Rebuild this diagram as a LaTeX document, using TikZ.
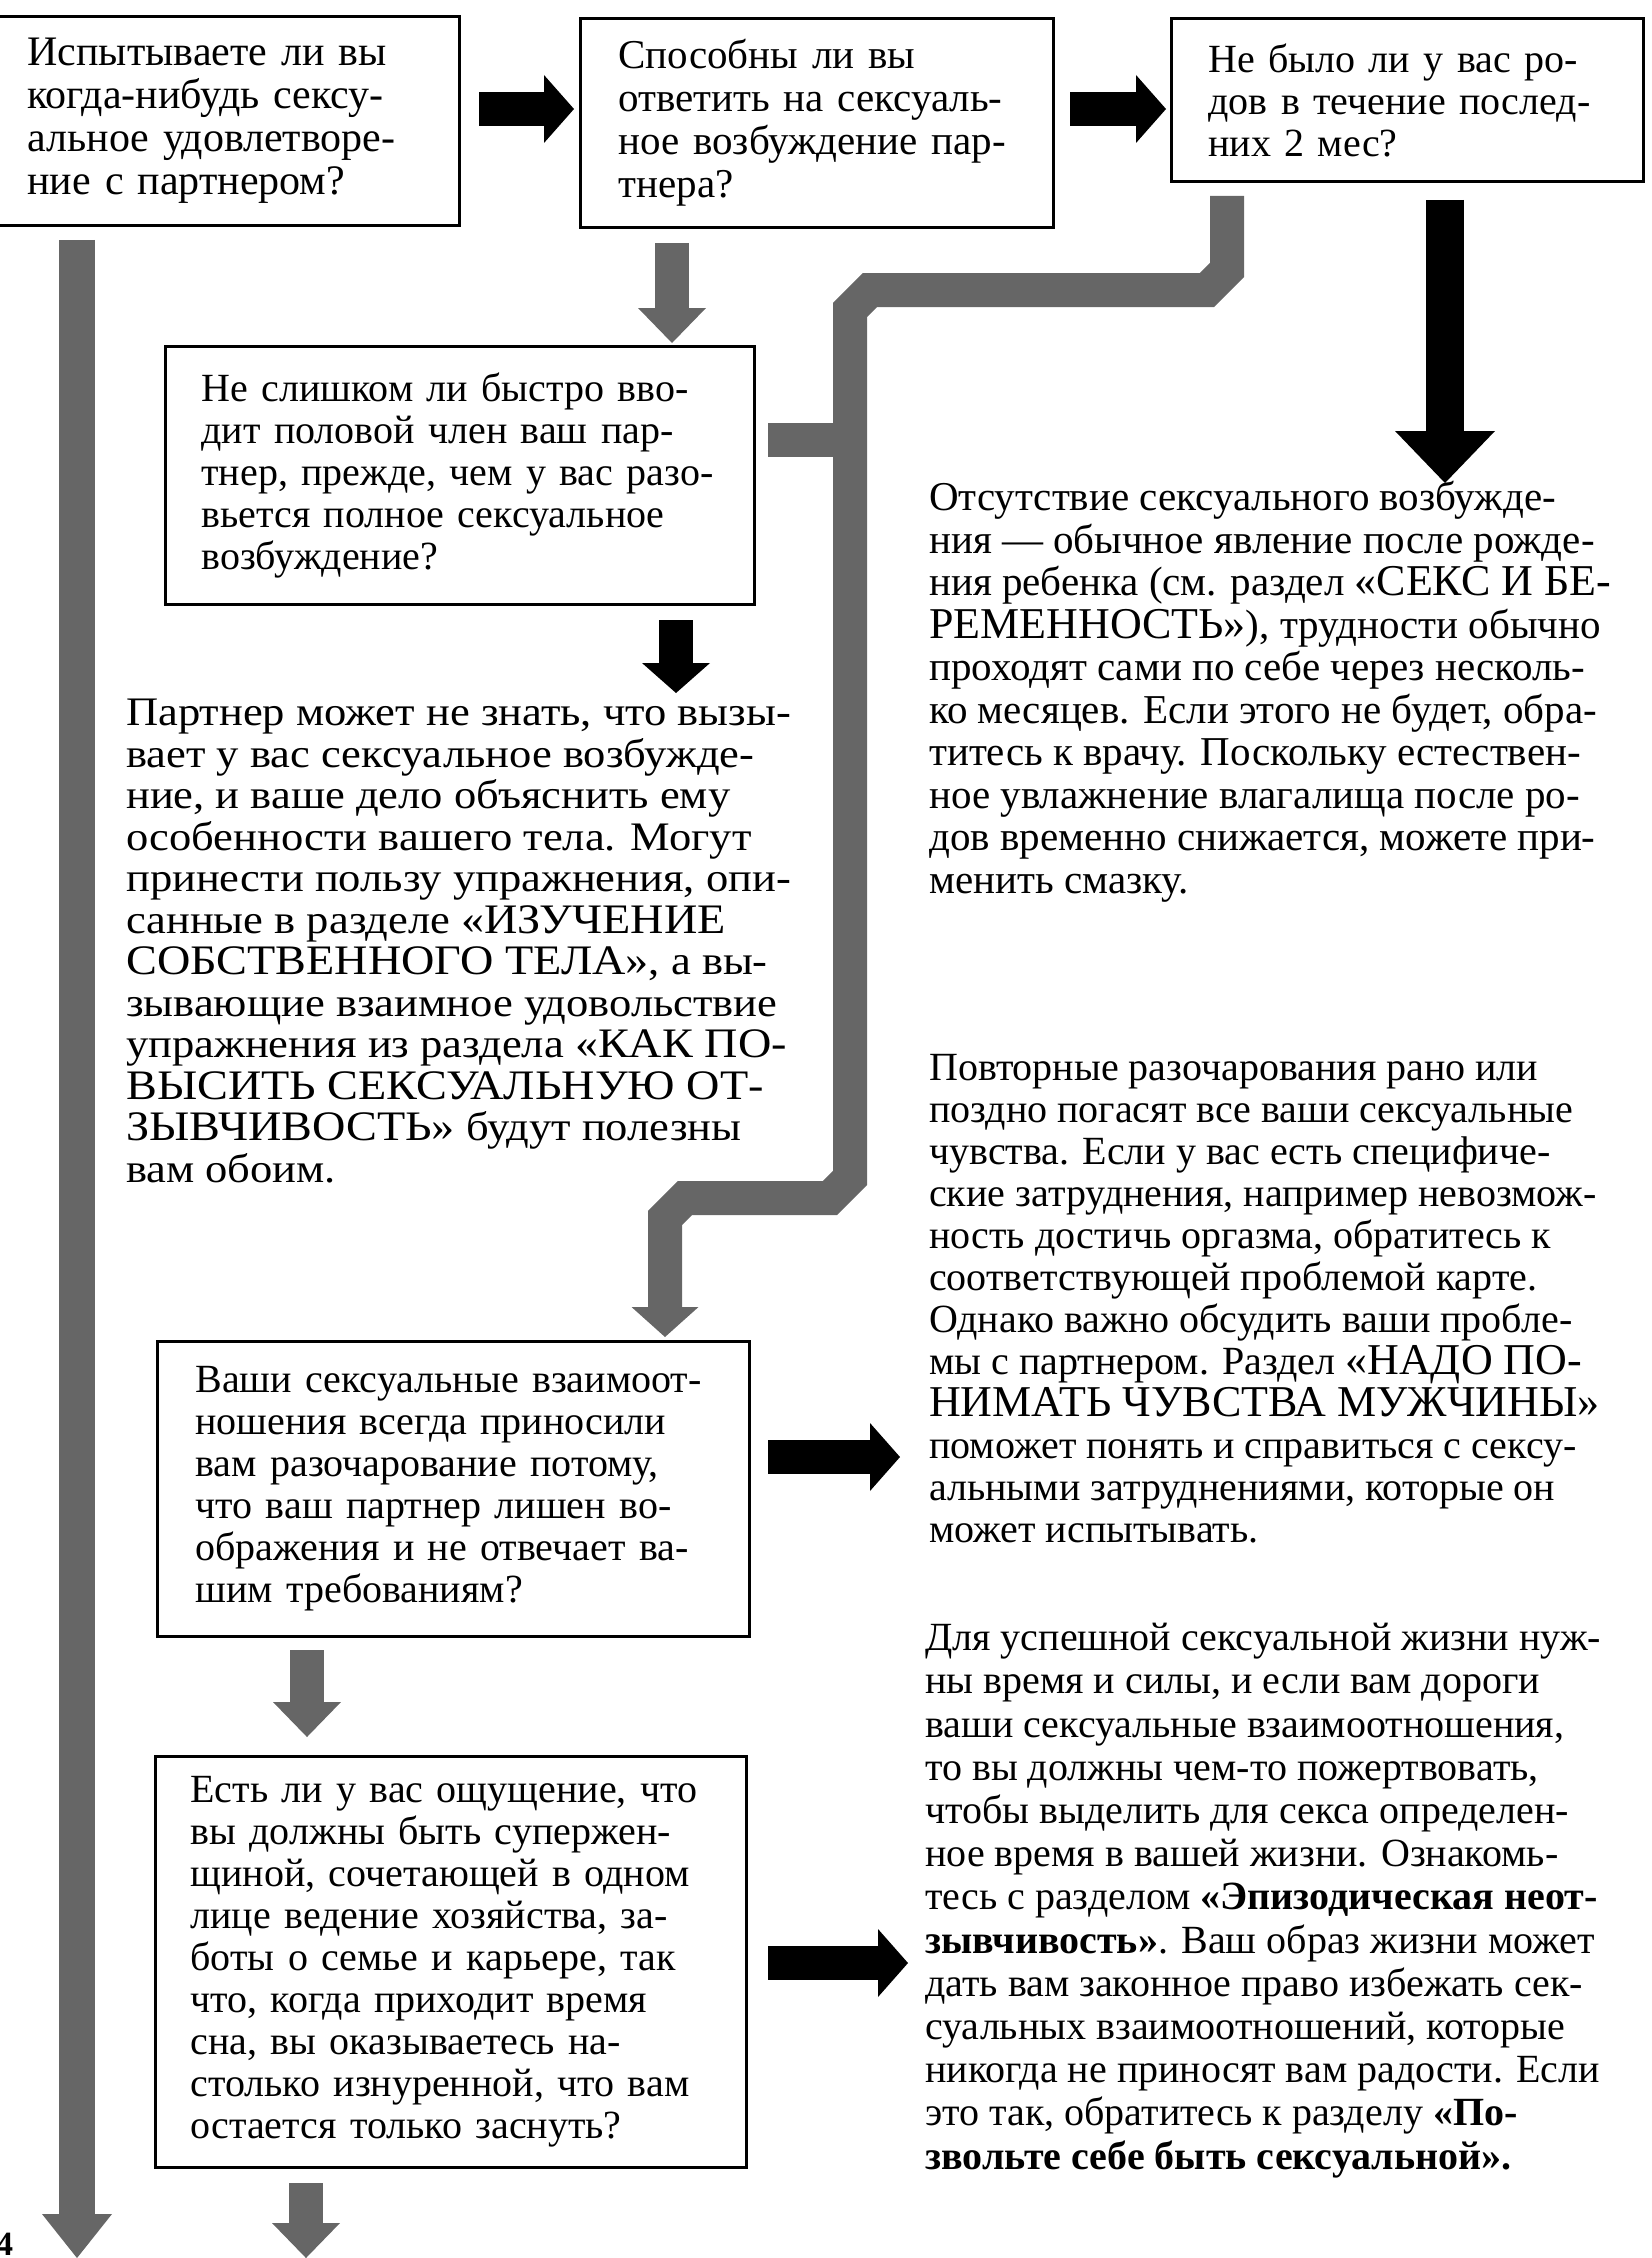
\documentclass[tikz,border=0pt]{standalone}
\usepackage{fontspec}
\setmainfont{Liberation Serif}
\newfontfamily\widefont[FakeStretch=1.1]{Liberation Serif}
\usetikzlibrary{arrows.meta,calc}

\newcommand{\capsw}[2][44]{{\fontsize{#1}{42}\selectfont #2}}
\newcommand{\notefont}[2]{\fontsize{#1}{#2}\selectfont\lineskiplimit=-30pt\relax}

\begin{document}
\begin{tikzpicture}[x=1pt, y=-1pt,
    qbox/.style={draw, line width=3pt, anchor=north west, align=left, inner ysep=0pt,
      font=\fontsize{40}{42}\selectfont},
    note/.style={anchor=north west, align=left, inner sep=0pt,
      font=\notefont{40}{42}},
    blackarrow/.style={line width=34pt, black, -{Triangle[length=30pt, width=68pt, line width=0pt]}},
    greyarrow/.style={line width=34pt, black!60, -{Triangle[length=35pt, width=68pt, line width=0pt]}},
    greypath/.style={line width=34pt, black!60}]
    \useasboundingbox (0,0) rectangle (1651,2258);

    % Вопросы в рамках
    \node[qbox, inner xsep=31pt, text width=401pt, minimum height=209pt,
      font=\fontsize{42}{43}\selectfont] (q1) at (-5,15)
      {Испытываете ли вы\\
       когда-нибудь сексу-\\
       альное удовлетворе-\\
       ние с партнером?};
    \node[qbox, inner xsep=38pt, text width=397pt, minimum height=209pt,
      font=\fontsize{41}{43}\selectfont] (q2) at (579,17)
      {Способны ли вы\\
       ответить на сексуаль-\\
       ное возбуждение пар-\\
       тнера?};
    \node[qbox, inner xsep=37pt, text width=398pt, minimum height=163pt] (q3) at (1170,17)
      {Не было ли у вас ро-\\
       дов в течение послед-\\
       них 2 мес?};
    \node[qbox, inner xsep=36pt, text width=517pt, minimum height=258pt] (q4) at (164,345)
      {Не слишком ли быстро вво-\\
       дит половой член ваш пар-\\
       тнер, прежде, чем у вас разо-\\
       вьется полное сексуальное\\
       возбуждение?};
    \node[qbox, inner xsep=38pt, text width=516pt, minimum height=295pt] (q5) at (156,1340)
      {Ваши сексуальные взаимоот-\\
       ношения всегда приносили\\
       вам разочарование потому,\\
       что ваш партнер лишен во-\\
       ображения и не отвечает ва-\\
       шим требованиям?};
    \node[qbox, inner xsep=35pt, text width=521pt, minimum height=411pt] (q6) at (154,1755)
      {Есть ли у вас ощущение, что\\
       вы должны быть супержен-\\
       щиной, сочетающей в одном\\
       лице ведение хозяйства, за-\\
       боты о семье и карьере, так\\
       что, когда приходит время\\
       сна, вы оказываетесь на-\\
       столько изнуренной, что вам\\
       остается только заснуть?};

    % Советы
    \node[note, font=\notefont{41}{42.5}] (t3) at (929,481)
      {Отсутствие сексуального возбужде-\\
       ния — обычное явление после рожде-\\
       ния ребенка (см. раздел \capsw{«СЕКС И БЕ-}\\
       \capsw{РЕМЕННОСТЬ»}), трудности обычно\\
       проходят сами по себе через несколь-\\
       ко месяцев. Если этого не будет, обра-\\
       титесь к врачу. Поскольку естествен-\\
       ное увлажнение влагалища после ро-\\
       дов временно снижается, можете при-\\
       менить смазку.};
    \node[note, font=\widefont\notefont{40.5}{41.5}] (t4) at (126,699)
      {Партнер может не знать, что вызы-\\
       вает у вас сексуальное возбужде-\\
       ние, и ваше дело объяснить ему\\
       особенности вашего тела. Могут\\
       принести пользу упражнения, опи-\\
       санные в разделе \capsw[42]{«ИЗУЧЕНИЕ}\\
       \capsw[42]{СОБСТВЕННОГО ТЕЛА»}, а вы-\\
       зывающие взаимное удовольствие\\
       упражнения из раздела \capsw[42]{«КАК ПО-}\\
       \capsw[42]{ВЫСИТЬ СЕКСУАЛЬНУЮ ОТ-}\\
       \capsw[42]{ЗЫВЧИВОСТЬ»} будут полезны\\
       вам обоим.};
    \node[note] (t5) at (929,1054)
      {Повторные разочарования рано или\\
       поздно погасят все ваши сексуальные\\
       чувства. Если у вас есть специфиче-\\
       ские затруднения, например невозмож-\\
       ность достичь оргазма, обратитесь к\\
       соответствующей проблемой карте.\\
       Однако важно обсудить ваши пробле-\\
       мы с партнером. Раздел \capsw{«НАДО ПО-}\\
       \capsw{НИМАТЬ ЧУВСТВА МУЖЧИНЫ»}\\
       поможет понять и справиться с сексу-\\
       альными затруднениями, которые он\\
       может испытывать.};
    \node[note, font=\notefont{40}{43.2}] (t6) at (925,1623)
      {Для успешной сексуальной жизни нуж-\\
       ны время и силы, и если вам дороги\\
       ваши сексуальные взаимоотношения,\\
       то вы должны чем-то пожертвовать,\\
       чтобы выделить для секса определен-\\
       ное время в вашей жизни. Ознакомь-\\
       тесь с разделом \textbf{«Эпизодическая неот-}\\
       \textbf{зывчивость»}. Ваш образ жизни может\\
       дать вам законное право избежать сек-\\
       суальных взаимоотношений, которые\\
       никогда не приносят вам радости. Если\\
       это так, обратитесь к разделу \textbf{«По-}\\
       \textbf{звольте себе быть сексуальной».}};

    % номер страницы
    \node[anchor=base west, inner sep=0pt, font=\fontsize{34}{34}\selectfont\bfseries] (pg) at (-4,2255) {4};

    % Опорные точки стрелок
    \coordinate (r1) at (0,109);
    \coordinate (c2) at (672,0);
    \coordinate (c3) at (1445,0);
    \coordinate (c4) at (676,0);
    \coordinate (c5) at (1227,0);
    \coordinate (c6) at (665,0);
    \coordinate (c7) at (307,0);
    \coordinate (j4) at (850,440);
    \coordinate (r5) at (0,1457);
    \coordinate (r6) at (0,1963);
    \coordinate (e1) at (77,2258);
    \coordinate (e6) at (306,2258);

    % Черные стрелки
    \draw[blackarrow] ($(q1.east |- r1)+(18,0)$) -- ($(q2.west |- r1)+(-5,0)$);
    \draw[blackarrow] ($(q2.east |- r1)+(15,0)$) -- ($(q3.west |- r1)+(-4,0)$);
    \draw[blackarrow, line width=38pt, -{Triangle[length=52pt, width=100pt, line width=0pt]}]
      ($(q3.south -| c3)+(0,17)$) -- ($(t3.north -| c3)+(0,2)$);
    \draw[blackarrow] ($(q4.south -| c4)+(0,14)$) -- ($(t4.north -| c4)+(0,-6)$);
    \draw[blackarrow] ($(q5.east |- r5)+(17,0)$) -- ($(t5.west |- r5)+(-29,0)$);
    \draw[blackarrow] ($(q6.east |- r6)+(20,0)$) -- ($(t6.west |- r6)+(-17,0)$);

    % Серые стрелки
    \draw[greyarrow] ($(q2.south -| c2)+(0,14)$) -- ($(q4.north -| c2)+(0,-2)$);
    \draw[greyarrow, line join=miter, -{Triangle[length=30pt, width=67pt, line width=0pt]}]
      ($(q3.south -| c5)+(0,13)$) -- (1227,270) -- (1207,290) -- (870,290) -- (850,310)
      -- (850,1178) -- (830,1198) -- (685,1198) -- (665,1218) -- ($(q5.north -| c6)+(0,-3)$);
    \draw[greypath] ($(q4.east |- j4)+(12,0)$) -- (j4);
    \draw[greyarrow] ($(q5.south -| c7)+(0,12)$) -- ($(q6.north -| c7)+(0,-18)$);
    \draw[greyarrow] ($(q6.south -| e6)+(0,14)$) -- (e6);
    \draw[greyarrow, line width=36pt, -{Triangle[length=44pt, width=70pt, line width=0pt]}]
      ($(q1.south -| e1)+(0,13)$) -- (e1);
\end{tikzpicture}
\end{document}
